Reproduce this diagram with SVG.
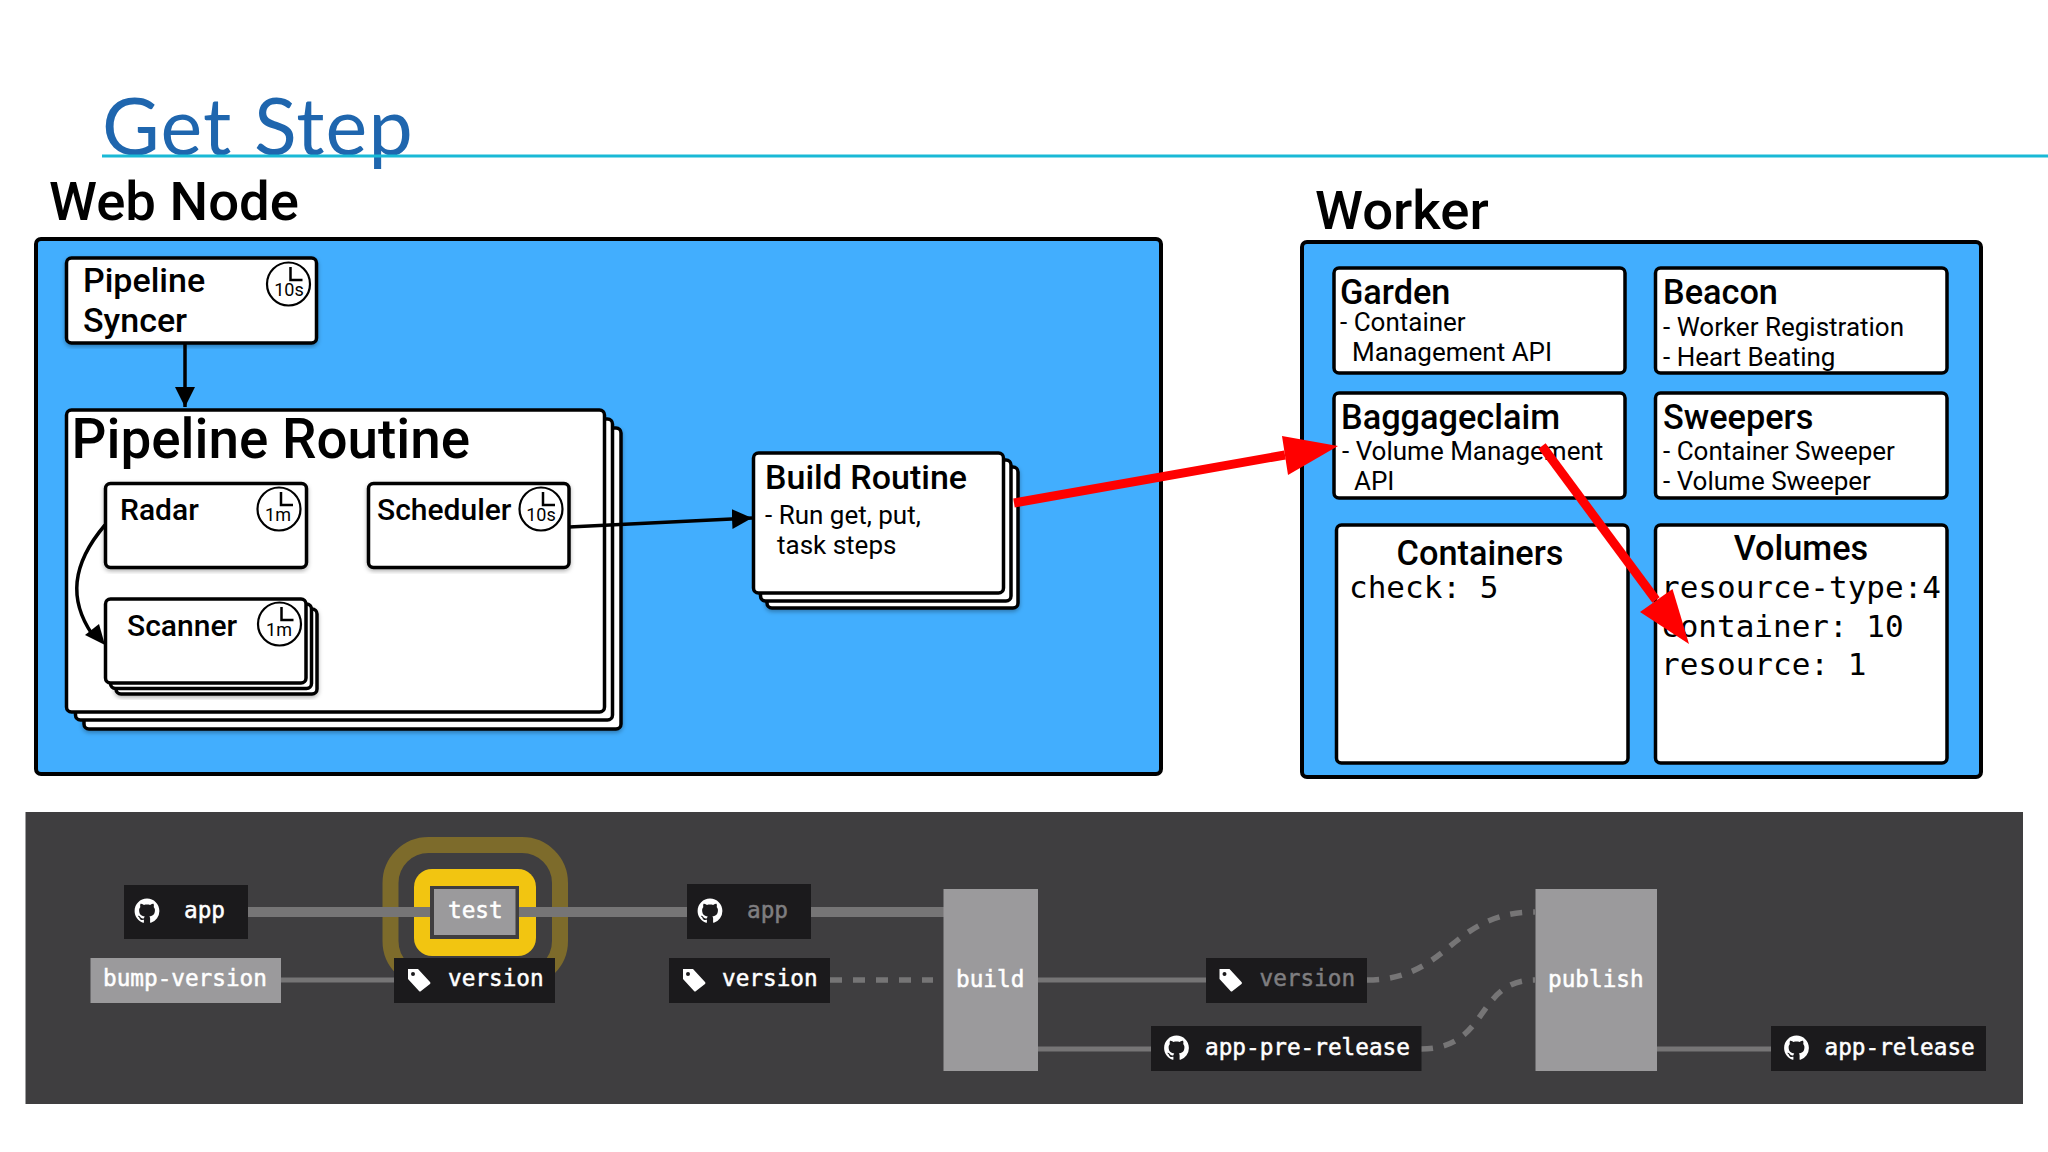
<svg xmlns="http://www.w3.org/2000/svg" width="2048" height="1152" viewBox="0 0 2048 1152">
<style>
text{font-family:"Roboto","Liberation Sans",sans-serif;fill:#000}
.panel{fill:#42aefe;stroke:#000;stroke-width:4}
.box{fill:#fff;stroke:#000;stroke-width:3.5}
.hd{font-size:54.500px;font-weight:500}
.t34{font-size:34px;font-weight:500}
.t36{font-size:34.300px;font-weight:500}
.t31{font-size:30px;font-weight:500}
.t26{font-size:26px}
.mono{font-family:"DejaVu Sans Mono","Liberation Mono",monospace;font-size:31px}
.clk{fill:#fff;stroke:#000;stroke-width:2.2}
.clkt{font-size:18px;text-anchor:middle}
.dk{fill:#1b1a1c}
.gr{fill:#9b9a9c}
.c{font-family:"DejaVu Sans Mono","Liberation Mono",monospace;font-size:22.700px;fill:#fff;stroke:#fff;stroke-width:.5}
text.dim{fill:#7f7e80;stroke:#7f7e80}
.w{stroke:#767576;fill:none;stroke-width:5}
.w10{stroke:#767576;fill:none;stroke-width:10}
.d{stroke:#767576;fill:none;stroke-width:5.500;stroke-dasharray:12 11}
</style>
<defs>
<filter id="sh" x="-5%" y="-5%" width="110%" height="112%"><feDropShadow dx="0" dy="2" stdDeviation="2" flood-color="#000" flood-opacity=".3"/></filter>
<g id="clock"><circle r="21.500" class="clk"/><path d="M2-17V-4H14" fill="none" stroke="#000" stroke-width="2.500"/></g>
<path id="gh" transform="scale(1.55) translate(-8 -8)" fill="#fff" d="M8 0C3.58 0 0 3.58 0 8c0 3.54 2.29 6.53 5.47 7.59.4.07.55-.17.55-.38 0-.19-.01-.82-.01-1.49-2.01.37-2.53-.49-2.69-.94-.09-.23-.48-.94-.82-1.13-.28-.15-.68-.52-.01-.53.63-.01 1.08.58 1.23.82.72 1.21 1.87.87 2.33.66.07-.52.28-.87.51-1.07-1.78-.2-3.64-.89-3.64-3.95 0-.87.31-1.59.82-2.15-.08-.2-.36-1.02.08-2.12 0 0 .67-.21 2.2.82.64-.18 1.32-.27 2-.27.68 0 1.36.09 2 .27 1.53-1.04 2.2-.82 2.2-.82.44 1.1.16 1.92.08 2.12.51.56.82 1.27.82 2.15 0 3.07-1.87 3.75-3.65 3.95.29.25.54.73.54 1.48 0 1.07-.01 1.93-.01 2.2 0 .21.15.46.55.38A8.013 8.013 0 0016 8c0-4.42-3.58-8-8-8z"/>
<path id="tag" fill="#fff" fill-rule="evenodd" d="M-11-11H-1L11 2Q12 3 11 4L2 11Q1 12 0 11L-11-1ZM-6-8A2 2 0 1 0-6-4 2 2 0 1 0-6-8Z"/>
<marker id="ah" viewBox="0 0 20 20" refX="20" refY="10" markerUnits="userSpaceOnUse" markerWidth="20" markerHeight="20" orient="auto"><path d="M0 0L20 10L0 20Z" fill="#000"/></marker>
</defs>
<rect width="2048" height="1152" fill="#fff"/>

<g id="title">
<text x="102" y="155" style="font-family:Lato,sans-serif;font-size:79px;letter-spacing:1.200px;fill:#1f66ae;font-weight:400">Get Step</text>
<rect x="102" y="154.500" width="1946" height="3" fill="#19b9d6"/>
</g>

<g id="web-node">
<text x="49" y="220" class="hd">Web Node</text>
<rect x="36" y="239" width="1125" height="535" rx="5" class="panel"/>
</g>
<g id="worker">
<text x="1315" y="229" class="hd">Worker</text>
<rect x="1302" y="242" width="679" height="535" rx="5" class="panel"/>
</g>

<g id="pipeline-syncer">
<rect x="66.500" y="258" width="250" height="85" rx="5" class="box" filter="url(#sh)"/>
<text x="83" y="291.500" class="t34">Pipeline</text>
<text x="83" y="331.500" class="t34">Syncer</text>
<use href="#clock" x="288.500" y="284"/><text x="289" y="296" class="clkt">10s</text>
</g>

<g id="pipeline-routine">
<rect x="84" y="428" width="537" height="301" rx="5" class="box" filter="url(#sh)"/>
<rect x="75.500" y="419" width="537" height="301" rx="5" class="box"/>
<rect x="66.500" y="410" width="538" height="302" rx="5" class="box"/>
<text x="71.500" y="458" style="font-size:54.800px;font-weight:500">Pipeline Routine</text>
</g>
<g id="radar">
<rect x="105.500" y="483.500" width="201" height="84" rx="5" class="box" filter="url(#sh)"/>
<text x="120" y="519.500" class="t31">Radar</text>
<use href="#clock" x="279" y="509"/><text x="278" y="521" class="clkt">1m</text>
</g>
<g id="scheduler">
<rect x="368.500" y="483.500" width="200.500" height="84" rx="5" class="box" filter="url(#sh)"/>
<text x="377" y="519.500" class="t31">Scheduler</text>
<use href="#clock" x="541" y="509"/><text x="541" y="521" class="clkt">10s</text>
</g>
<g id="scanner">
<rect x="116" y="609" width="201" height="85" rx="5" class="box" filter="url(#sh)"/>
<rect x="110.500" y="604" width="201" height="84.500" rx="5" class="box"/>
<rect x="105.500" y="599" width="200.500" height="84" rx="5" class="box"/>
<text x="127" y="635.500" class="t31">Scanner</text>
<use href="#clock" x="279.500" y="624"/><text x="279" y="636" class="clkt">1m</text>
</g>
<g id="build-routine">
<rect x="767" y="467" width="251" height="141" rx="5" class="box" filter="url(#sh)"/>
<rect x="760.500" y="460" width="250.500" height="141" rx="5" class="box"/>
<rect x="753.500" y="453" width="250" height="140" rx="5" class="box"/>
<text x="765" y="489" class="t34">Build Routine</text>
<text x="765" y="524" class="t26">- Run get, put,</text>
<text x="777" y="554" class="t26">task steps</text>
</g>

<g id="garden">
<rect x="1334" y="268" width="291" height="105" rx="5" class="box"/>
<text x="1340" y="303.500" class="t36">Garden</text>
<text x="1340" y="331" class="t26">- Container</text>
<text x="1352" y="361" class="t26">Management API</text>
</g>
<g id="beacon">
<rect x="1655.500" y="268" width="291.500" height="105" rx="5" class="box"/>
<text x="1663" y="304" class="t36">Beacon</text>
<text x="1663" y="336" class="t26">- Worker Registration</text>
<text x="1663" y="366" class="t26">- Heart Beating</text>
</g>
<g id="baggageclaim">
<rect x="1334" y="393" width="291" height="105" rx="5" class="box"/>
<text x="1341" y="429" class="t36">Baggageclaim</text>
<text x="1342" y="460" class="t26">- Volume Management</text>
<text x="1354" y="490" class="t26">API</text>
</g>
<g id="sweepers">
<rect x="1655.500" y="393" width="291.500" height="105" rx="5" class="box"/>
<text x="1663" y="429" class="t36">Sweepers</text>
<text x="1663" y="460" class="t26">- Container Sweeper</text>
<text x="1663" y="489.500" class="t26">- Volume Sweeper</text>
</g>
<g id="containers">
<rect x="1336.500" y="525" width="291.500" height="238" rx="5" class="box"/>
<text x="1480" y="565" class="t36" text-anchor="middle">Containers</text>
<text x="1349" y="598" class="mono">check: 5</text>
</g>
<g id="volumes">
<rect x="1655.500" y="525" width="291.500" height="238" rx="5" class="box"/>
<text x="1801" y="560" class="t36" text-anchor="middle">Volumes</text>
<text x="1661" y="598" class="mono">resource-type:4</text>
<text x="1661" y="637" class="mono">container: 10</text>
<text x="1661" y="675" class="mono">resource: 1</text>
</g>

<rect x="25.500" y="812" width="1997.500" height="292" fill="#3f3e40"/>
<g id="test-halo">
<rect x="390.500" y="845" width="169.500" height="134" rx="38" fill="none" stroke="#7d6b2b" stroke-width="16"/>
<rect x="414" y="869" width="122" height="87" rx="18" fill="#f2c511"/>
</g>
<g id="connectors">
<path class="w10" d="M248 912H430M519 912H687M811 912H944"/>
<path class="w" d="M281 980H394M1038 980H1206M1038 1049H1151M1657 1049H1771"/>
<path class="d" d="M830 980H933"/>
<path class="d" d="M1367 980C1450 980 1450 912 1535 912"/>
<path class="d" d="M1421 1049C1490 1049 1475 980 1535 980"/>
<path d="M185 343V407" fill="none" stroke="#000" stroke-width="3.500" marker-end="url(#ah)"/>
<path d="M569 527L752 518" fill="none" stroke="#000" stroke-width="3.500" marker-end="url(#ah)"/>
<path d="M105 525C71 565 69 600 92 634" fill="none" stroke="#000" stroke-width="3.500"/>
<path d="M105 645L85 635L99 624Z" fill="#000"/>
<path d="M1014 503L1285 455" fill="none" stroke="#f00" stroke-width="9"/>
<path d="M1338 446L1282 436L1288 475Z" fill="#f00"/>
<path d="M1542 446L1656 600" fill="none" stroke="#f00" stroke-width="9"/>
<path d="M1689 644L1640 612L1672.500 589Z" fill="#f00"/>
</g>
<g id="n-app"><rect x="124" y="885" width="124" height="54" class="dk"/><use href="#gh" x="147" y="911"/><text x="184" y="918" class="c">app</text></g>
<g id="n-test"><rect x="430" y="886" width="89" height="53" fill="#3f3e40"/><rect x="434" y="889" width="81.500" height="46" class="gr"/><text x="448" y="918" class="c">test</text></g>
<g id="n-bump"><rect x="90.500" y="958" width="190.500" height="45" class="gr"/><text x="103" y="986" class="c">bump-version</text></g>
<g id="n-version1"><rect x="394" y="958" width="161" height="45" class="dk"/><use href="#tag" x="419" y="980"/><text x="448" y="986" class="c">version</text></g>
<g id="n-app2"><rect x="687" y="884" width="124" height="55" class="dk"/><use href="#gh" x="710" y="911"/><text x="747" y="918" class="c dim">app</text></g>
<g id="n-version2"><rect x="669" y="958" width="161" height="45" class="dk"/><use href="#tag" x="694" y="980"/><text x="722" y="986" class="c">version</text></g>
<g id="n-build"><rect x="943.500" y="889" width="94.500" height="182" class="gr"/><text x="956" y="987" class="c">build</text></g>
<g id="n-version3"><rect x="1206" y="958" width="161" height="45" class="dk"/><use href="#tag" x="1230.500" y="980"/><text x="1259.500" y="986" class="c dim">version</text></g>
<g id="n-prerelease"><rect x="1151" y="1026" width="270.500" height="45" class="dk"/><use href="#gh" x="1176.500" y="1048"/><text x="1205" y="1055" class="c">app-pre-release</text></g>
<g id="n-publish"><rect x="1535.500" y="889" width="121.500" height="182" class="gr"/><text x="1548" y="987" class="c">publish</text></g>
<g id="n-release"><rect x="1771" y="1026" width="215" height="45" class="dk"/><use href="#gh" x="1796.500" y="1048"/><text x="1824.500" y="1055" class="c">app-release</text></g>
</svg>
